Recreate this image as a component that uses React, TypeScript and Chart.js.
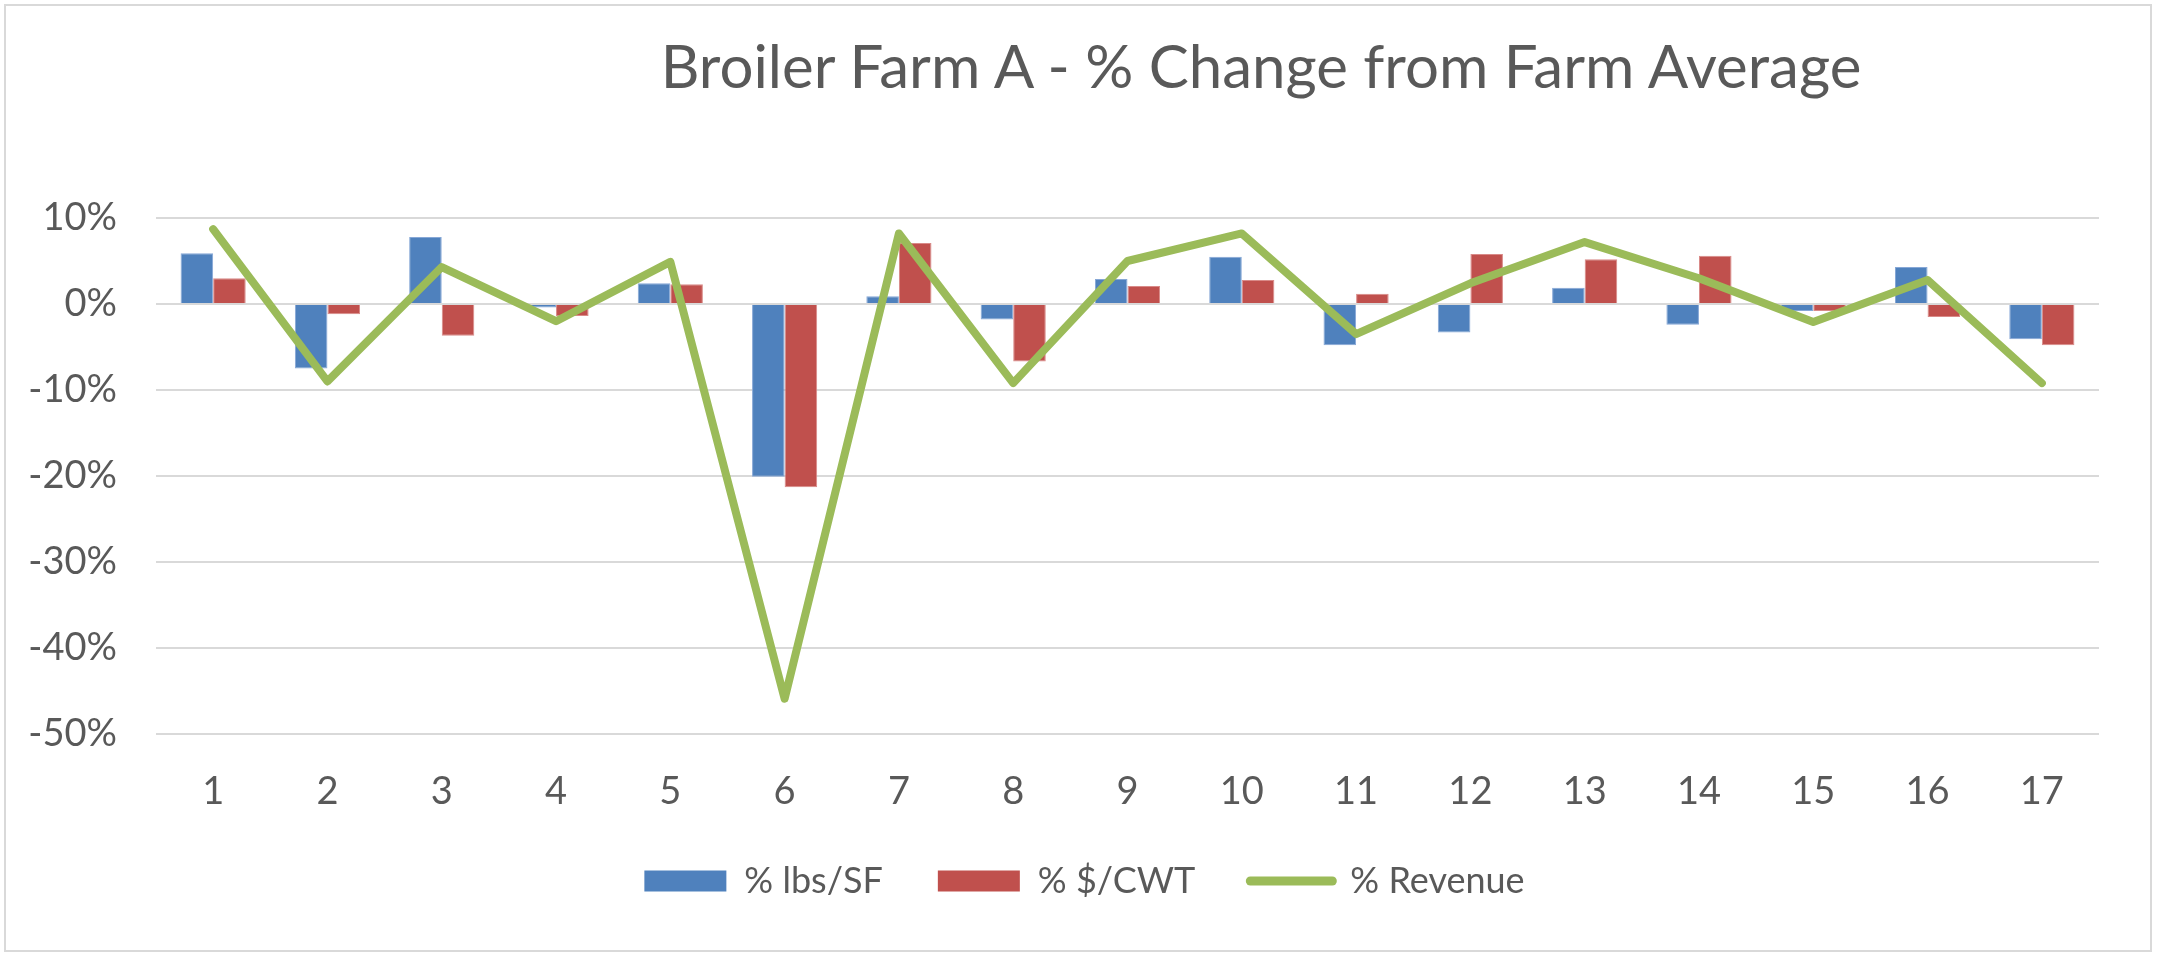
import React, { useEffect, useRef } from "react";
import { Chart, registerables } from "chart.js";

Chart.register(...registerables);

const farms = ["1", "2", "3", "4", "5", "6", "7", "8", "9", "10", "11", "12", "13", "14", "15", "16", "17"];
const lbsPerSF = [5.9, -7.5, 7.8, -0.4, 2.4, -20.1, 0.9, -1.8, 2.9, 5.5, -4.8, -3.3, 1.9, -2.4, -0.8, 4.3, -4.1];
const dollarsPerCWT = [3.0, -1.2, -3.7, -1.4, 2.3, -21.3, 7.1, -6.7, 2.1, 2.8, 1.2, 5.8, 5.2, 5.6, -0.8, -1.5, -4.8];
const revenue = [8.7, -9.0, 4.3, -2.0, 4.9, -45.9, 8.2, -9.2, 5.0, 8.2, -3.5, 2.4, 7.2, 3.0, -2.1, 2.8, -9.2];

const FONT = "Lato";
const TEXT = "#595959";
const GRID = "#d9d9d9";

// Excel centred the legend a little right of the canvas centre
const legendNudge = {
  id: "legendNudge",
  afterLayout(chart: Chart) {
    const legend = chart.legend;
    if (legend) {
      legend.left += 35;
      legend.right += 35;
    }
  },
};

function BroilerChart() {
  const chartRef = useRef<HTMLCanvasElement>(null);

  useEffect(() => {
    const canvas = chartRef.current;
    if (!canvas) {
      return;
    }

    const chart = new Chart(canvas, {
      type: "bar",
      data: {
        labels: farms,
        datasets: [
          {
            label: "% lbs/SF",
            data: lbsPerSF,
            backgroundColor: "#4F81BD",
            borderColor: "#86a7d6",
            borderWidth: 1,
            order: 1,
          },
          {
            label: "% $/CWT",
            data: dollarsPerCWT,
            backgroundColor: "#C0504D",
            borderColor: "#d98a88",
            borderWidth: 1,
            order: 1,
          },
          {
            type: "line",
            label: "% Revenue",
            data: revenue,
            borderColor: "#9BBB59",
            backgroundColor: "#9BBB59",
            borderWidth: 8,
            borderCapStyle: "round",
            borderJoinStyle: "round",
            pointRadius: 0,
            tension: 0,
            order: 0,
          },
        ],
      },
      options: {
        responsive: false,
        animation: false,
        layout: {
          padding: { top: 218, right: 59, bottom: 48, left: 0 },
        },
        datasets: {
          bar: {
            categoryPercentage: 0.57,
            barPercentage: 1,
          },
        },
        scales: {
          x: {
            grid: { display: false, drawTicks: false },
            border: { display: false },
            ticks: {
              padding: 35,
              color: TEXT,
              font: { family: FONT, size: 38 },
            },
            afterFit: (scale) => {
              scale.height = 74;
            },
          },
          y: {
            min: -50,
            max: 10,
            grid: { color: GRID, lineWidth: 2, drawTicks: false },
            border: { display: false },
            ticks: {
              stepSize: 10,
              padding: 39,
              color: TEXT,
              font: { family: FONT, size: 38 },
              callback: (v) => `${v}%`,
            },
            afterFit: (scale) => {
              scale.width = 156;
            },
          },
        },
        plugins: {
          tooltip: { enabled: false },
          title: { display: false },
          legend: {
            position: "bottom",
            labels: {
              usePointStyle: true,
              pointStyleWidth: 82,
              boxHeight: 21,
              padding: 55,
              color: TEXT,
              font: { family: FONT, size: 36 },
              generateLabels: (c) => {
                const items = Chart.defaults.plugins.legend.labels.generateLabels(c);
                return items
                  .sort((a, b) => (a.datasetIndex ?? 0) - (b.datasetIndex ?? 0))
                  .map((item) =>
                    item.datasetIndex === 2
                      ? { ...item, pointStyle: "line", lineWidth: 9, strokeStyle: "#9BBB59", lineCap: "round" }
                      : { ...item, pointStyle: "rect", lineWidth: 0 }
                  );
              },
            },
          },
        },
      },
      plugins: [legendNudge],
    });

    return () => {
      chart.destroy();
    };
  }, []);

  return (
    <div style={{ position: "fixed", left: 0, top: 0, width: 2158, height: 957, background: "#fff" }}>
      <div
        style={{
          position: "absolute",
          left: 4,
          top: 4,
          width: 2148,
          height: 948,
          border: `2px solid ${GRID}`,
          boxSizing: "border-box",
        }}
      />
      <div
        style={{
          position: "absolute",
          left: 561,
          top: 29,
          width: 1400,
          textAlign: "center",
          fontFamily: FONT,
          fontSize: 60,
          lineHeight: "72px",
          color: TEXT,
          whiteSpace: "nowrap",
        }}
      >
        Broiler Farm A - % Change from Farm Average
      </div>
      <canvas ref={chartRef} width={2158} height={957} style={{ position: "absolute", left: 0, top: 0 }} />
    </div>
  );
}

export default function App() {
  return <BroilerChart />;
}
